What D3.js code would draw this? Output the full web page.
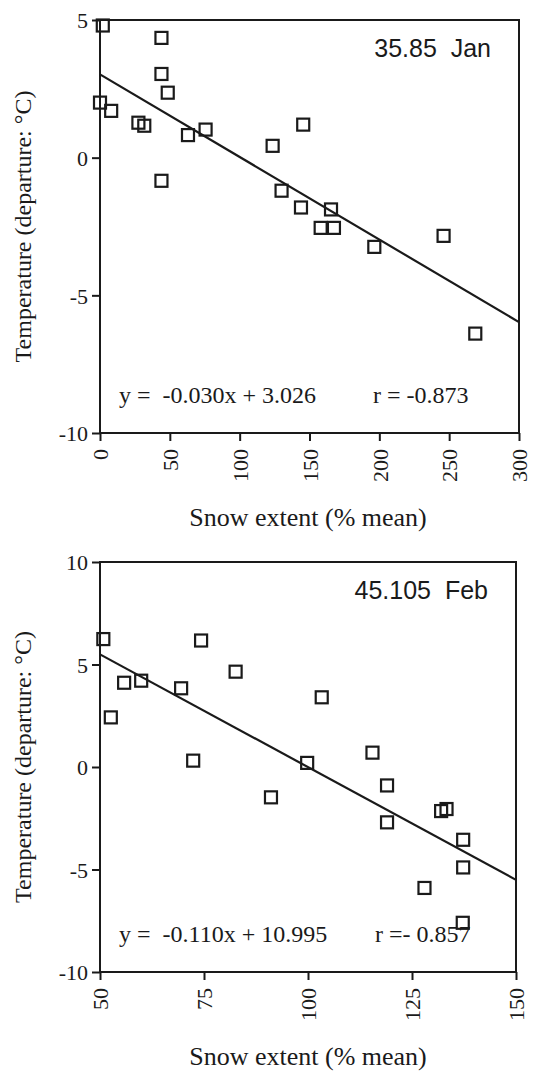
<!DOCTYPE html>
<html lang="en">
<head>
  <meta charset="UTF-8">
  <title>Snow extent vs temperature</title>
  <script src="https://cdn.jsdelivr.net/npm/d3@7"></script>
  <style>
    body { margin: 0; background: #fff; }
    svg text { fill: #1a1a1a; }
    .serif { font-family: "Liberation Serif", "DejaVu Serif", serif; }
    .sans { font-family: "Liberation Sans", Arial, sans-serif; }
  </style>
</head>
<body>
  <div id="chart"></div>

  <script>
    // Jan panel (35.85)
    const janSnow = [2, 0, 8, 44, 44, 48.5, 27.5, 31.7, 63, 75.6, 44, 123.6, 145.5, 130, 143.9, 165.4, 158, 167.5, 196.4, 246, 268.7];
    const janTemp = [4.8, 2.0, 1.7, 4.35, 3.04, 2.36, 1.27, 1.16, 0.82, 1.02, -0.84, 0.43, 1.2, -1.2, -1.81, -1.88, -2.55, -2.55, -3.24, -2.84, -6.39];
    const janFit = [[0, 3.026], [300, -5.974]];
    const janXTicks = [0, 50, 100, 150, 200, 250, 300];
    const janYTicks = [5, 0, -5, -10];

    // Feb panel (45.105)
    const febSnow = [50.8, 52.6, 55.8, 59.9, 69.5, 72.4, 74.3, 82.6, 91.1, 99.8, 103.3, 115.5, 119, 119, 132, 133.3, 137.3, 137.3, 128, 137.2];
    const febTemp = [6.24, 2.42, 4.11, 4.21, 3.84, 0.31, 6.17, 4.65, -1.48, 0.2, 3.4, 0.7, -0.9, -2.7, -2.15, -2.05, -3.55, -4.9, -5.9, -7.6];
    const febFit = [[50, 5.495], [150, -5.505]];
    const febXTicks = [50, 75, 100, 125, 150];
    const febYTicks = [10, 5, 0, -5, -10];

    const width = 534, height = 1076;
    const ink = '#1a1a1a';

    const svg = d3.select('#chart').append('svg')
      .attr('width', width)
      .attr('height', height);

    function drawPanel(opt) {
      const x = d3.scaleLinear().domain(opt.xDomain).range([opt.left, opt.right]);
      const y = d3.scaleLinear().domain(opt.yDomain).range([opt.bottom, opt.top]);
      const g = svg.append('g');

      // frame
      g.append('rect')
        .attr('x', opt.left).attr('y', opt.top)
        .attr('width', opt.right - opt.left).attr('height', opt.bottom - opt.top)
        .attr('fill', 'none').attr('stroke', ink).attr('stroke-width', 2);

      // y axis, plain hyphen minus like the original
      const yAxis = g.append('g')
        .attr('transform', `translate(${opt.left},0)`)
        .call(d3.axisLeft(y).tickValues(opt.yTicks).tickSize(8).tickPadding(4).tickFormat(d => String(d)));
      yAxis.select('.domain').remove();
      yAxis.selectAll('line').attr('stroke', ink).attr('stroke-width', 2);
      yAxis.selectAll('text')
        .attr('class', 'serif')
        .style('font-size', '22px')
        .attr('dy', '0.35em');

      // x axis with rotated labels
      const xAxis = g.append('g')
        .attr('transform', `translate(0,${opt.bottom})`)
        .call(d3.axisBottom(x).tickValues(opt.xTicks).tickSize(8).tickFormat(d => String(d)));
      xAxis.select('.domain').remove();
      xAxis.selectAll('line').attr('stroke', ink).attr('stroke-width', 2);
      xAxis.selectAll('text')
        .attr('class', 'serif')
        .style('font-size', '22px')
        .attr('text-anchor', 'end')
        .attr('y', 0)
        .attr('dy', '0.35em')
        .attr('transform', 'translate(0,16) rotate(-90)');

      // regression line
      g.append('line')
        .attr('x1', x(opt.fit[0][0])).attr('y1', y(opt.fit[0][1]))
        .attr('x2', x(opt.fit[1][0])).attr('y2', y(opt.fit[1][1]))
        .attr('stroke', ink).attr('stroke-width', 2.2);

      // hollow square markers
      const s = 12;
      g.append('g').selectAll('rect')
        .data(opt.xs.map((v, i) => [v, opt.ys[i]]))
        .join('rect')
          .attr('x', d => x(d[0]) - s / 2)
          .attr('y', d => y(d[1]) - s / 2)
          .attr('width', s).attr('height', s)
          .attr('fill', 'none')
          .attr('stroke', ink)
          .attr('stroke-width', 2.2);

      // panel title, top right
      g.append('text')
        .attr('class', 'sans')
        .attr('x', opt.right - 28).attr('y', opt.top + 37)
        .attr('text-anchor', 'end')
        .style('font-size', '25px')
        .style('white-space', 'pre')
        .text(opt.title);

      // equation and r
      g.append('text')
        .attr('class', 'serif')
        .attr('x', opt.left + 19).attr('y', opt.bottom - 30)
        .style('font-size', '24px')
        .style('white-space', 'pre')
        .text(opt.eq);
      g.append('text')
        .attr('class', 'serif')
        .attr('x', opt.rX).attr('y', opt.bottom - 30)
        .style('font-size', '24px')
        .style('white-space', 'pre')
        .text(opt.r);

      // axis titles
      g.append('text')
        .attr('class', 'serif')
        .attr('text-anchor', 'middle')
        .attr('transform', `translate(31,${(opt.top + opt.bottom) / 2}) rotate(-90)`)
        .style('font-size', '24px')
        .text('Temperature (departure: °C)');
      g.append('text')
        .attr('class', 'serif')
        .attr('text-anchor', 'middle')
        .attr('x', 308).attr('y', opt.bottom + 93)
        .style('font-size', '26px')
        .text('Snow extent (% mean)');
    }

    drawPanel({
      xDomain: [0, 300], yDomain: [-10, 5],
      left: 100, right: 519, top: 20, bottom: 433,
      xTicks: janXTicks, yTicks: janYTicks,
      xs: janSnow, ys: janTemp, fit: janFit,
      title: '35.85  Jan',
      eq: 'y =  -0.030x + 3.026', r: 'r = -0.873', rX: 373
    });

    drawPanel({
      xDomain: [50, 150], yDomain: [-10, 10],
      left: 100, right: 516, top: 562, bottom: 972,
      xTicks: febXTicks, yTicks: febYTicks,
      xs: febSnow, ys: febTemp, fit: febFit,
      title: '45.105  Feb',
      eq: 'y =  -0.110x + 10.995', r: 'r =- 0.857', rX: 375
    });
  </script>
</body>
</html>
